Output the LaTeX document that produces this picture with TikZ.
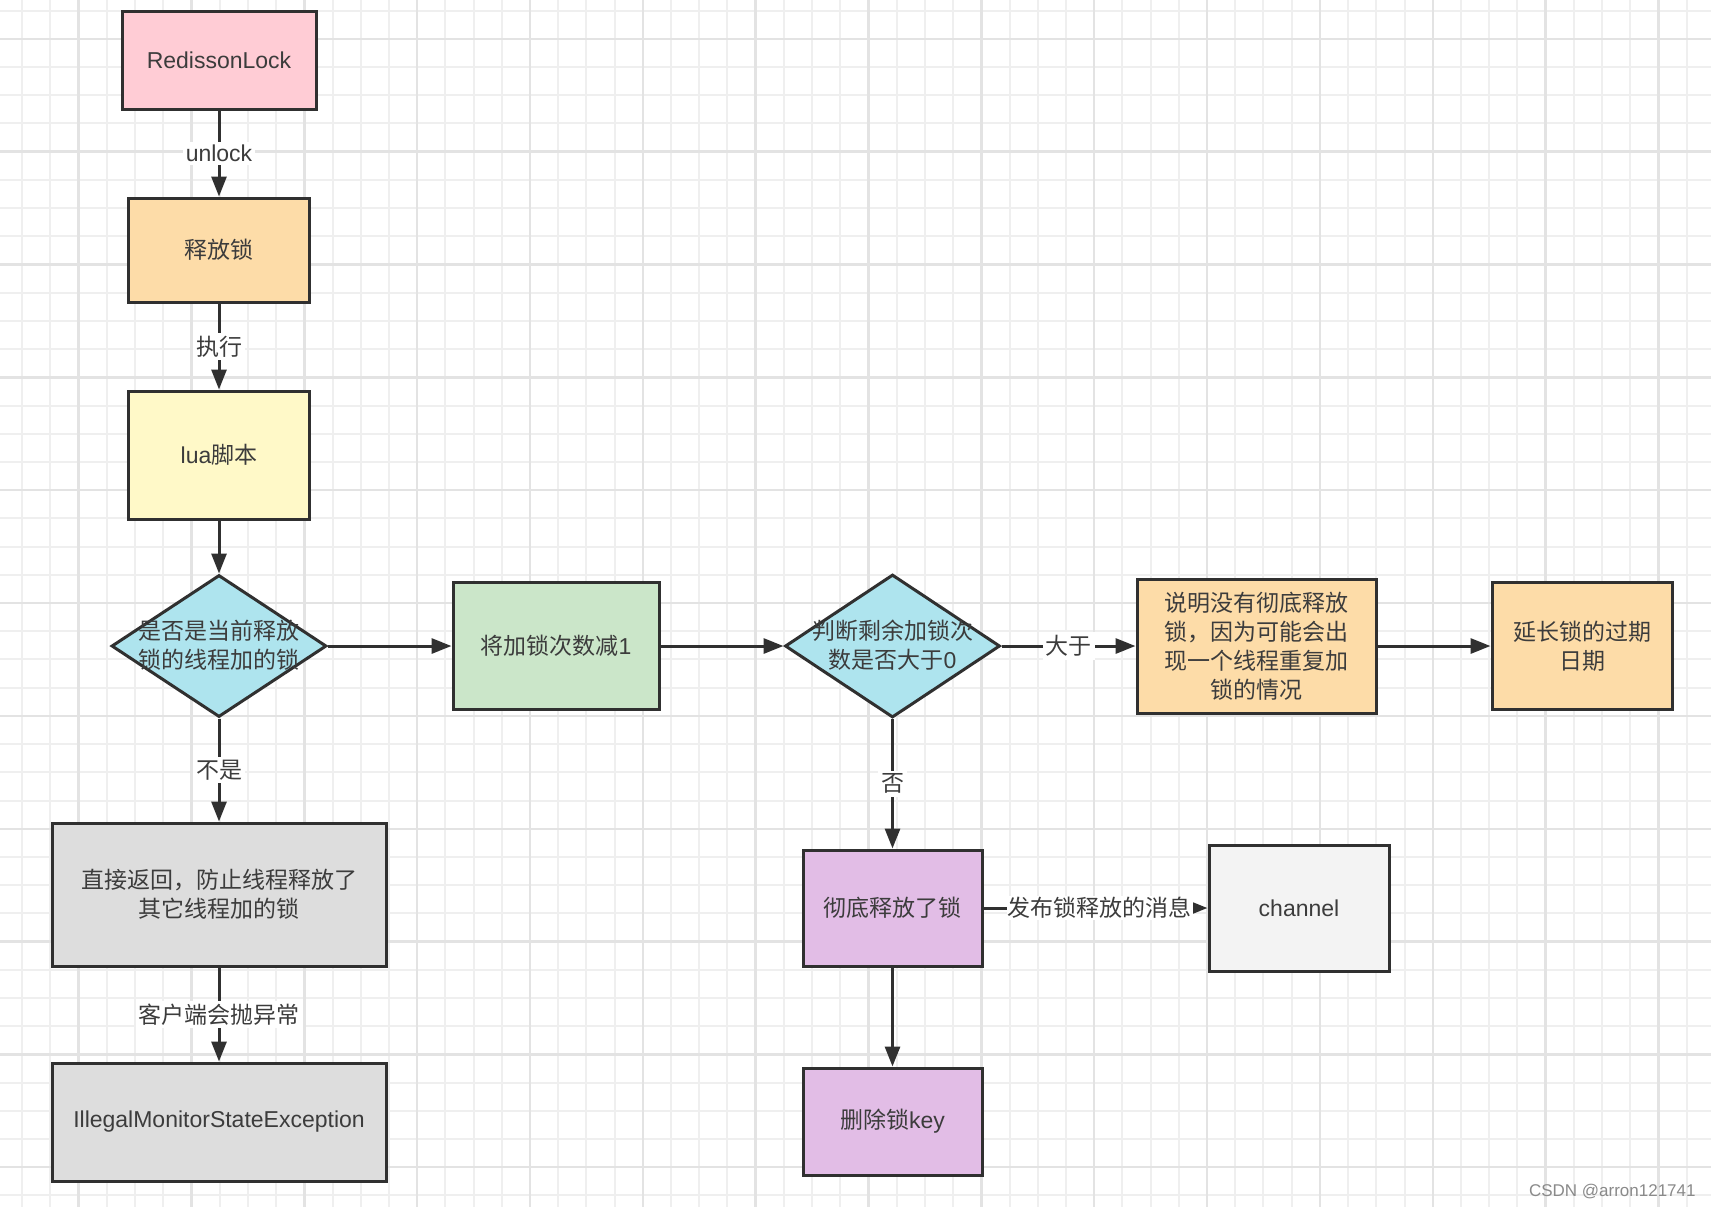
\documentclass[tikz,border=0pt]{standalone}
\usepackage{fontspec}
\setmainfont{Noto Sans CJK SC}
\newfontfamily\lat{Liberation Sans}
\newfontfamily\wmfont{Liberation Sans}
\usetikzlibrary{shapes.geometric,arrows.meta}

\definecolor{ink}{HTML}{303030}
\definecolor{txt}{HTML}{3C3C3C}
\definecolor{gridminor}{HTML}{EFEFEF}
\definecolor{gridmajor}{HTML}{E3E3E3}
\definecolor{cpink}{HTML}{FFCCD5}
\definecolor{cpeach}{HTML}{FDDCA8}
\definecolor{cyellow}{HTML}{FFF9C8}
\definecolor{ccyan}{HTML}{AEE4EE}
\definecolor{cgreen}{HTML}{CBE6C9}
\definecolor{cgray}{HTML}{DDDDDD}
\definecolor{cpurple}{HTML}{E2BDE6}
\definecolor{clight}{HTML}{F3F3F3}
\definecolor{wm}{HTML}{8A8A8A}

\begin{document}
\begin{tikzpicture}[x=0.5pt,y=-0.5pt,
  body/.style={font=\fontsize{11.5}{14.5}\selectfont, text=txt, align=center},
  box/.style={body, draw=ink, line width=1.5pt, fill=#1, inner sep=0pt},
  sz/.style 2 args={minimum width=#1*0.5pt, minimum height=#2*0.5pt},
  dia/.style={diamond, draw=ink, line width=1.5pt, fill=ccyan, inner sep=0pt},
  flow/.style={draw=ink, line width=1.5pt, -{Triangle[length=10pt,width=7.5pt]}},
  lbl/.style={body, fill=white, inner sep=1.5pt},
]
% canvas and grid
\fill[white] (0,0) rectangle (1711,1207);
\useasboundingbox (0,0) rectangle (1711,1207);
\foreach \n in {0,...,59}{
  \draw[gridminor, line width=1pt] ({22.2+28.21*\n},0) -- ({22.2+28.21*\n},1207);
}
\foreach \m in {0,...,42}{
  \draw[gridminor, line width=1pt] (0,{10.6+28.21*\m}) -- (1711,{10.6+28.21*\m});
}
\foreach \n in {2,6,...,58}{
  \draw[gridmajor, line width=1.2pt] ({22.2+28.21*\n},0) -- ({22.2+28.21*\n},1207);
}
\foreach \m in {1,5,...,41}{
  \draw[gridmajor, line width=1.2pt] (0,{10.6+28.21*\m}) -- (1711,{10.6+28.21*\m});
}

% left column
\node[box=cpink, sz={194}{98}] (rl) at (219,60) {\lat RedissonLock};
\node[box=cpeach, sz={181}{104}] (sf) at (219,250) {释放锁};
\node[box=cyellow, sz={181}{128}] (lua) at (219,455) {{\lat lua}脚本};
\node[dia, sz={215}{142}] (d1) at (219,646) {};
\node[body] (d1t) at (219,645) {是否是当前释放\\锁的线程加的锁};
\node[box=cgray, sz={334}{143}] (ret) at (219,894.5) {直接返回，防止线程释放了\\其它线程加的锁};
\node[box=cgray, sz={334}{118}] (exc) at (219,1122) {\lat IllegalMonitorStateException};

% middle and right
\node[box=cgreen, sz={206}{127}] (dec) at (556,646) {将加锁次数减{\lat 1}};
\node[dia, sz={215}{143}] (d2) at (892.5,646) {};
\node[body] (d2t) at (892.5,645) {判断剩余加锁次\\数是否大于{\lat 0}};
\node[box=cpeach, sz={239}{134}] (expl) at (1256.5,646) {说明没有彻底释放\\锁，因为可能会出\\现一个线程重复加\\锁的情况};
\node[box=cpeach, sz={180}{127}] (ext) at (1582,646) {延长锁的过期\\日期};
\node[box=cpurple, sz={179}{116}] (full) at (892.5,908) {彻底释放了锁};
\node[box=clight, sz={180}{126}] (ch) at (1299,908) {\lat channel};
\node[box=cpurple, sz={179}{107}] (del) at (892.5,1121.5) {删除锁{\lat key}};

% connectors
\draw[flow] (rl) -- node[lbl] {\lat unlock} (sf);
\draw[flow] (sf) -- node[lbl] {执行} (lua);
\draw[flow] (lua) -- (d1);
\draw[flow] (d1) -- node[lbl] {不是} (ret);
\draw[flow] (ret) -- node[lbl] {客户端会抛异常} (exc);
\draw[flow] (d1) -- (dec);
\draw[flow] (dec) -- (d2);
\draw[flow] (d2) -- node[lbl] {大于} (expl);
\draw[flow] (expl) -- (ext);
\draw[flow] (d2) -- node[lbl] {否} (full);
\draw[flow] (full) -- node[lbl, inner sep=0.5pt, xshift=2pt] {发布锁释放的消息} (ch);
\draw[flow] (full) -- (del);

% watermark
\node[anchor=east, font=\wmfont\fontsize{8.5}{10}\selectfont, text=wm, inner sep=0pt] (mark) at (1696,1191) {CSDN @arron121741};
\end{tikzpicture}
\end{document}
